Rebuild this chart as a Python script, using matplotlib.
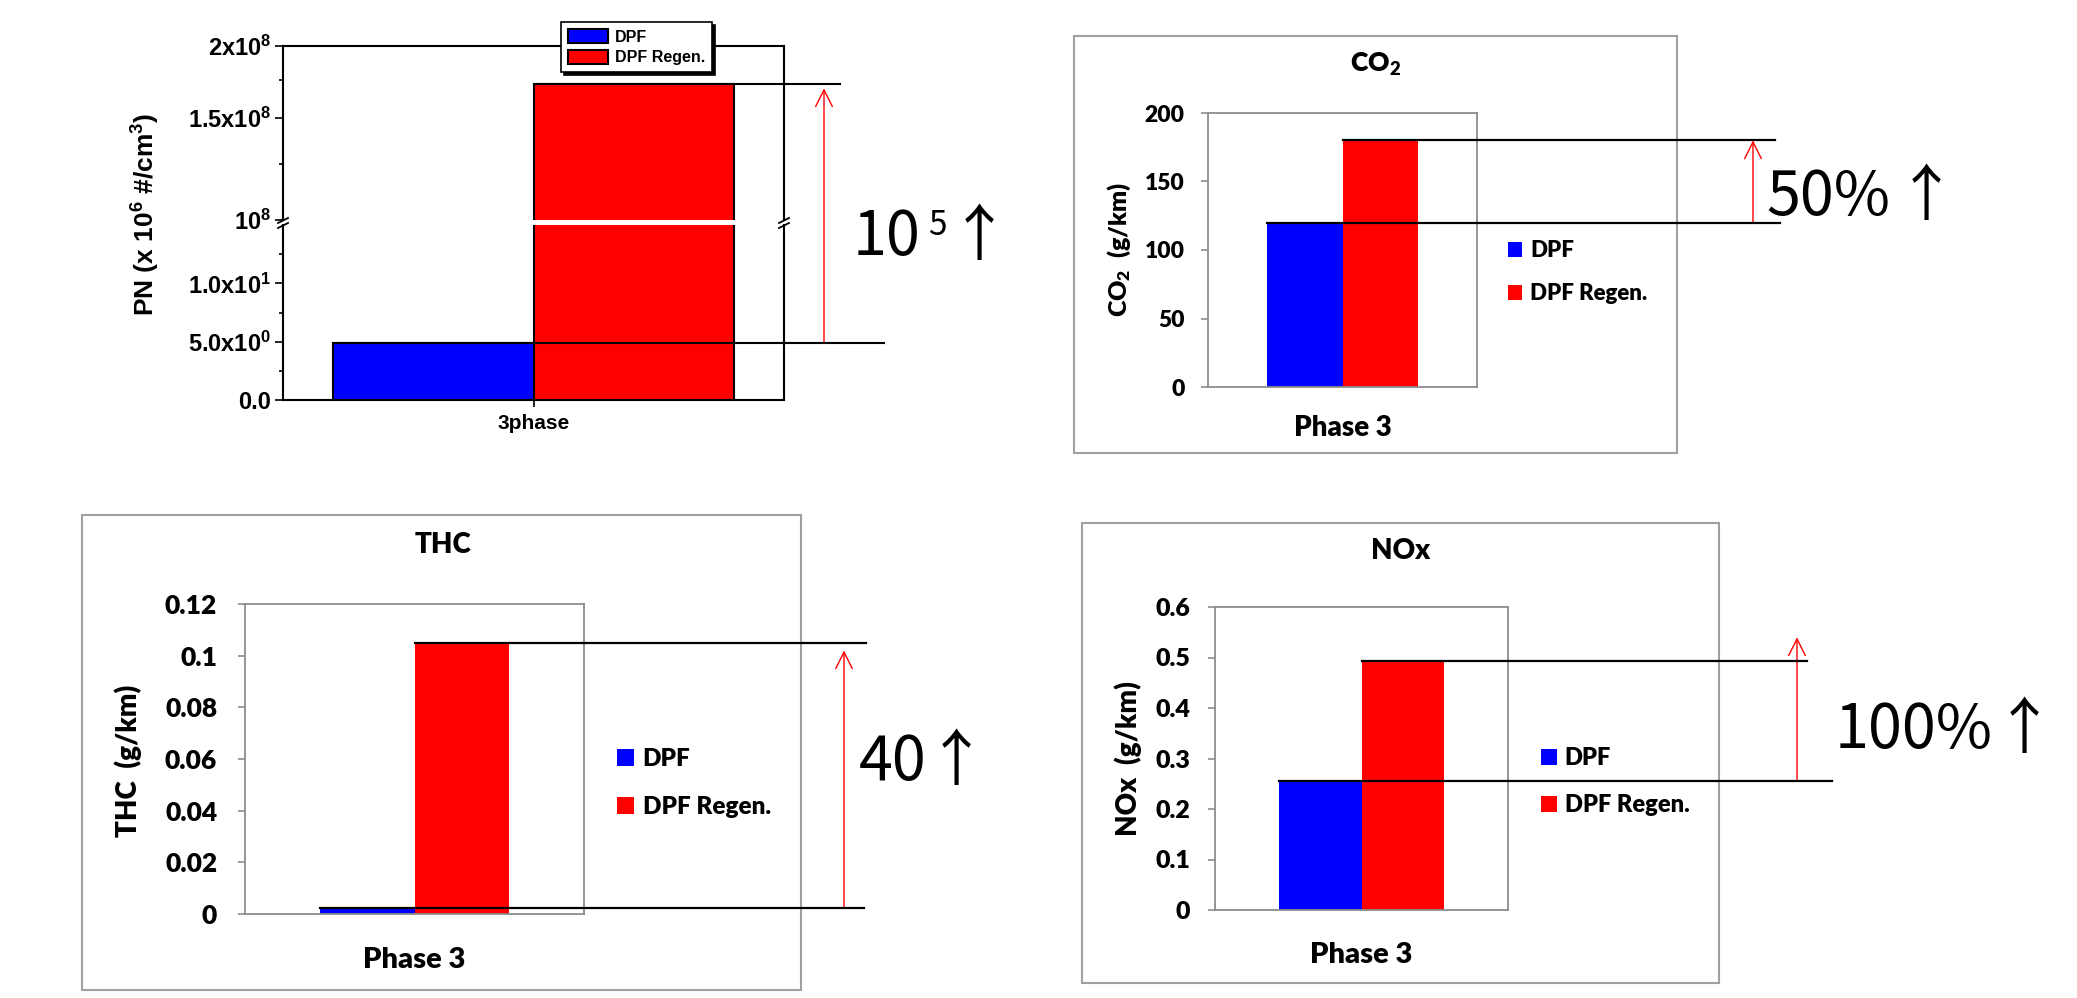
import matplotlib
matplotlib.use('Agg')
import matplotlib.pyplot as plt
import matplotlib.transforms as mtransforms
from matplotlib.patches import Rectangle, ArrowStyle
from matplotlib.lines import Line2D
from matplotlib.ticker import NullFormatter

plt.rcParams['font.family'] = ['Liberation Sans', 'DejaVu Sans']
plt.rcParams['mathtext.fontset'] = 'custom'
plt.rcParams['mathtext.rm'] = 'Liberation Sans:bold'
plt.rcParams['mathtext.it'] = 'Liberation Sans:bold'
plt.rcParams['mathtext.bf'] = 'Liberation Sans:bold'

# ---------------- data ----------------
series = ['DPF', 'DPF Regen.']
series_colors = ['#0000FF', '#FF0000']

pn_category = ['3phase']
pn_values = [4.9, 1.72e8]
pn_low_ticks = [0, 5, 10]
pn_low_minor = [2.5, 7.5, 12.5]
pn_low_labels = ['0.0', r'$\mathregular{5.0x10^0}$', r'$\mathregular{1.0x10^1}$']
pn_high_ticks = [1e8, 1.5e8, 2e8]
pn_high_minor = [1.25e8, 1.75e8]
pn_high_labels = [r'$\mathregular{10^8}$', r'$\mathregular{1.5x10^8}$', r'$\mathregular{2x10^8}$']
pn_ylabel = r'PN (x $\mathregular{10^6}$ #/cm$\mathregular{^3}$)'
pn_change = ['10', '5', '↑']

co2_category = ['Phase 3']
co2_values = [120, 180]
co2_ticks = [0, 50, 100, 150, 200]
co2_labels = ['0', '50', '100', '150', '200']
co2_title = r'CO$\mathregular{_2}$'
co2_ylabel = r'CO$\mathregular{_2}$  (g/km)'
co2_change = ['50%', '↑']

thc_category = ['Phase 3']
thc_values = [0.0025, 0.105]
thc_ticks = [0, 0.02, 0.04, 0.06, 0.08, 0.1, 0.12]
thc_labels = ['0', '0.02', '0.04', '0.06', '0.08', '0.1', '0.12']
thc_title = 'THC'
thc_ylabel = 'THC  (g/km)'
thc_change = ['40', '↑']

nox_category = ['Phase 3']
nox_values = [0.255, 0.493]
nox_ticks = [0, 0.1, 0.2, 0.3, 0.4, 0.5, 0.6]
nox_labels = ['0', '0.1', '0.2', '0.3', '0.4', '0.5', '0.6']
nox_title = 'NOx'
nox_ylabel = 'NOx  (g/km)'
nox_change = ['100%', '↑']

# ---------------- layout helpers ----------------
W, H = 2077, 998
fig = plt.figure(figsize=(W / 100, H / 100), dpi=100)
fig.patch.set_facecolor('white')


def rect(x0, y0, x1, y1):
    return [x0 / W, 1 - y1 / H, (x1 - x0) / W, (y1 - y0) / H]


def fx(px):
    return px / W


def fy(py):
    return 1 - py / H


def xdata(ax_px, px):
    return -0.5 + (px - ax_px[0]) / (ax_px[2] - ax_px[0])


CJK = ['Noto Sans CJK KR', 'DejaVu Sans']
EXCEL_FONT = ['Lato', 'DejaVu Sans']
EXCEL_WEIGHT = 'heavy'
arrow_style = ArrowStyle('->', head_length=0.6, head_width=0.3)

# ================= PN panel (Origin style) =================
pn_hi_px = (283, 46, 784, 220)
pn_lo_px = (283, 225, 784, 400)
ax_hi = fig.add_axes(rect(*pn_hi_px))
ax_lo = fig.add_axes(rect(*pn_lo_px))
PN_W = 0.4
pn_x = [-PN_W / 2, PN_W / 2]
for ax in (ax_hi, ax_lo):
    for xi, v, c, s in zip(pn_x, pn_values, series_colors, series):
        ax.bar(xi, v, width=PN_W, color=c, edgecolor='black', linewidth=1.5,
               label=s, zorder=2)
    ax.set_xlim(-0.5, 0.5)
    for sp in ax.spines.values():
        sp.set_linewidth(1.5)
        sp.set_color('black')
    ax.tick_params(axis='y', which='major', direction='out', length=5.5, width=1.2,
                   labelsize=17, pad=3)
    ax.tick_params(axis='y', which='minor', direction='out', length=3, width=1.2)

ax_hi.set_yscale('log')
ax_hi.set_ylim(pn_high_ticks[0], pn_high_ticks[-1])
ax_hi.set_yticks(pn_high_ticks, pn_high_labels)
ax_hi.set_yticks(pn_high_minor, minor=True)
ax_hi.yaxis.set_minor_formatter(NullFormatter())
ax_hi.spines['bottom'].set_visible(False)
ax_hi.tick_params(axis='x', which='both', bottom=False, labelbottom=False)

ax_lo.set_ylim(0, 15)
ax_lo.set_yticks(pn_low_ticks, pn_low_labels)
ax_lo.set_yticks(pn_low_minor, minor=True)
ax_lo.spines['top'].set_visible(False)
ax_lo.set_xticks([0], pn_category)
ax_lo.tick_params(axis='x', direction='out', length=5, width=1.2, labelsize=15, pad=5)
for ax in (ax_hi, ax_lo):
    for lbl in ax.get_yticklabels() + ax.get_xticklabels():
        lbl.set_fontweight('bold')

# break marks on both vertical spines
for xs in (283, 784):
    for dy in (0, 5):
        fig.add_artist(Line2D([fx(xs - 5), fx(xs + 5)], [fy(223 + dy), fy(218 + dy)],
                              color='black', lw=1.3, transform=fig.transFigure))

fig.text(fx(146), fy(214), pn_ylabel, rotation=90, ha='center', va='center',
         fontsize=19, fontweight='bold')

leg = ax_hi.legend(loc='upper left', bbox_to_anchor=(fx(561), fy(22)),
                   bbox_transform=fig.transFigure, frameon=True, fancybox=False,
                   edgecolor='black', framealpha=1, borderaxespad=0, borderpad=0.45,
                   handlelength=2.5, handleheight=1.0, handletextpad=0.4,
                   labelspacing=0.3,
                   shadow={'facecolor': 'black', 'edgecolor': 'black', 'alpha': 1},
                   prop={'weight': 'bold', 'size': 11.5})
leg.get_frame().set_linewidth(1.2)

# annotation lines / arrow for PN
ax_hi.plot([0, xdata(pn_hi_px, 840)], [pn_values[1]] * 2, color='black', lw=1.5,
           clip_on=False, zorder=4)
ax_lo.plot([-PN_W, xdata(pn_lo_px, 884)], [pn_values[0]] * 2, color='black', lw=1.5,
           clip_on=False, zorder=4)
xa = xdata(pn_lo_px, 824)
ax_lo.annotate('', xy=(xa, 1.69e8),
               xycoords=mtransforms.blended_transform_factory(ax_lo.transData, ax_hi.transData),
               xytext=(xa, pn_values[0]), textcoords=ax_lo.transData,
               arrowprops=dict(arrowstyle=arrow_style, mutation_scale=20, color='red',
                               lw=1.0, shrinkA=0, shrinkB=0),
               annotation_clip=False)
fig.text(fx(887), fy(255), pn_change[0], ha='center', va='baseline', fontsize=44,
         family=CJK)
fig.text(fx(937), fy(235), pn_change[1], ha='center', va='baseline', fontsize=24,
         family=CJK)
fig.text(fx(979), fy(255), pn_change[2], ha='center', va='baseline', fontsize=44,
         family=CJK)

# ================= Excel-style panels =================
BAR_W = 0.28


def excel_panel(box_px, plot_px, values, ticks, ticklabels, category, title, title_px,
                ylabel, ylabel_px, fs_tick, fs_title, fs_ylabel, fs_cat, fs_leg,
                tick_pad, cat_pad, leg_px, leg_spacing, handle_len, tip, line_ends,
                arrow_x, change, change_px):
    fig.add_artist(Rectangle((fx(box_px[0]), fy(box_px[3])),
                             (box_px[2] - box_px[0]) / W, (box_px[3] - box_px[1]) / H,
                             transform=fig.transFigure, fill=False,
                             edgecolor='#a0a0a0', lw=1.5, zorder=-1))
    ax = fig.add_axes(rect(*plot_px))
    xs = [-BAR_W / 2, BAR_W / 2]
    for xi, v, c, s in zip(xs, values, series_colors, series):
        ax.bar(xi, v, width=BAR_W, color=c, label=s, zorder=2)
    ax.set_xlim(-0.5, 0.5)
    ax.set_ylim(ticks[0], ticks[-1])
    ax.set_yticks(ticks, ticklabels)
    ax.set_xticks([0], category)
    for sp in ax.spines.values():
        sp.set_color('#8c8c8c')
        sp.set_linewidth(1.3)
    ax.tick_params(axis='y', direction='out', length=5, width=1.2, color='#8c8c8c',
                   labelsize=fs_tick, pad=tick_pad, labelfontfamily=EXCEL_FONT)
    ax.tick_params(axis='x', length=0, labelsize=fs_cat, pad=cat_pad,
                   labelfontfamily=EXCEL_FONT)
    for lbl in ax.get_yticklabels() + ax.get_xticklabels():
        lbl.set_fontweight(EXCEL_WEIGHT)
    h = plot_px[3] - plot_px[1]
    wpx = plot_px[2] - plot_px[0]
    ax.set_title(title, x=(title_px[0] - plot_px[0]) / wpx,
                 y=(plot_px[3] - title_px[1]) / h, va='center', ha='center',
                 fontsize=fs_title, fontweight=EXCEL_WEIGHT, family=EXCEL_FONT)
    ax.set_ylabel(ylabel, fontsize=fs_ylabel, fontweight=EXCEL_WEIGHT, family=EXCEL_FONT,
                  va='center', ha='center')
    ax.yaxis.set_label_coords((ylabel_px[0] - plot_px[0]) / wpx,
                              (plot_px[3] - ylabel_px[1]) / h)
    ax.legend(loc='upper left', bbox_to_anchor=(fx(leg_px[0]), fy(leg_px[1])),
              bbox_transform=fig.transFigure, frameon=False, borderaxespad=0,
              borderpad=0, handlelength=handle_len, handleheight=handle_len,
              handletextpad=0.35, labelspacing=leg_spacing,
              prop={'family': EXCEL_FONT, 'weight': EXCEL_WEIGHT, 'size': fs_leg})
    # annotation lines and arrow
    ax.plot([0, xdata(plot_px, line_ends[0])], [values[1]] * 2, color='black', lw=1.6,
            clip_on=False, zorder=4)
    ax.plot([-BAR_W, xdata(plot_px, line_ends[1])], [values[0]] * 2, color='black',
            lw=1.6, clip_on=False, zorder=4)
    xa = xdata(plot_px, arrow_x)
    ax.annotate('', xy=(xa, tip), xytext=(xa, values[0]),
                arrowprops=dict(arrowstyle=arrow_style, mutation_scale=20, color='red',
                                lw=1.0, shrinkA=0, shrinkB=0),
                annotation_clip=False)
    fig.text(fx(change_px[0]), fy(change_px[2]), change[0], ha='center', va='baseline',
             fontsize=44, family=CJK)
    fig.text(fx(change_px[1]), fy(change_px[2]), change[1], ha='center', va='baseline',
             fontsize=44, family=CJK)
    return ax


excel_panel(box_px=(1074, 36, 1677, 453), plot_px=(1208, 113, 1477, 387),
            values=co2_values, ticks=co2_ticks, ticklabels=co2_labels,
            category=co2_category, title=co2_title, title_px=(1376, 73),
            ylabel=co2_ylabel, ylabel_px=(1119, 249),
            fs_tick=16.5, fs_title=19, fs_ylabel=18, fs_cat=20, fs_leg=16,
            tick_pad=12, cat_pad=20, leg_px=(1508, 240), leg_spacing=1.0,
            handle_len=0.65, tip=co2_values[1], line_ends=(1775, 1780),
            arrow_x=1753, change=co2_change, change_px=(1828, 1926, 215))

excel_panel(box_px=(82, 515, 801, 990), plot_px=(245, 604, 584, 914),
            values=thc_values, ticks=thc_ticks, ticklabels=thc_labels,
            category=thc_category, title=thc_title, title_px=(443, 553),
            ylabel=thc_ylabel, ylabel_px=(128, 761),
            fs_tick=19, fs_title=20, fs_ylabel=20, fs_cat=21, fs_leg=17.5,
            tick_pad=15, cat_pad=24, leg_px=(617, 748), leg_spacing=1.05,
            handle_len=0.7, tip=0.102, line_ends=(866, 864),
            arrow_x=844, change=thc_change, change_px=(893, 956, 780))

excel_panel(box_px=(1082, 523, 1719, 983), plot_px=(1215, 607, 1508, 910),
            values=nox_values, ticks=nox_ticks, ticklabels=nox_labels,
            category=nox_category, title=nox_title, title_px=(1401, 559),
            ylabel=nox_ylabel, ylabel_px=(1128, 759),
            fs_tick=18, fs_title=20, fs_ylabel=20, fs_cat=21, fs_leg=17,
            tick_pad=13, cat_pad=23, leg_px=(1541, 747), leg_spacing=1.07,
            handle_len=0.66, tip=0.54, line_ends=(1807, 1832),
            arrow_x=1797, change=nox_change, change_px=(1914, 2024, 748))

fig.savefig('out.png', dpi=100)
